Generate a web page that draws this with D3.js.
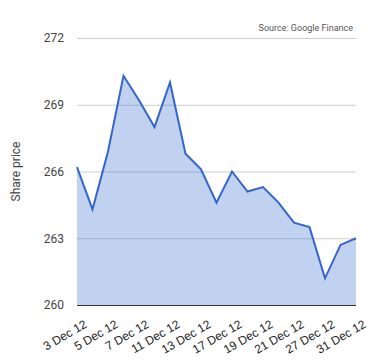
<!DOCTYPE html>
<html>
<head>
<meta charset="utf-8">
<script src="https://cdn.jsdelivr.net/npm/d3@7"></script>
<style>
  body { margin: 0; background: #fff; }
  svg text { font-family: Roboto, Arial, sans-serif; }
</style>
</head>
<body>
<svg id="chart" width="380" height="360"></svg>
<script>

// trading days, Dec 2012
const dates = ["3 Dec 12", "4 Dec 12", "5 Dec 12", "6 Dec 12", "7 Dec 12",
  "10 Dec 12", "11 Dec 12", "12 Dec 12", "13 Dec 12", "14 Dec 12",
  "17 Dec 12", "18 Dec 12", "19 Dec 12", "20 Dec 12", "21 Dec 12",
  "26 Dec 12", "27 Dec 12", "28 Dec 12", "31 Dec 12"];

const prices = [266.2, 264.3, 266.9, 270.3, 269.2, 268.0, 270.0, 266.8, 266.1, 264.6,
  266.0, 265.1, 265.3, 264.6, 263.7, 263.5, 261.2, 262.7, 263.0];

const yTicks = [260, 263, 266, 269, 272];

const svg = d3.select("svg"),
  width = +svg.attr("width"),
  height = +svg.attr("height");

const margin = { top: 38, right: 24, bottom: 55, left: 77 };

const x = d3.scalePoint()
  .domain(dates)
  .range([margin.left, width - margin.right]);

const y = d3.scaleLinear()
  .domain([260, 272])
  .range([height - margin.bottom, margin.top]);

// gridlines
svg.append("g")
  .selectAll("line")
  .data(yTicks)
  .enter()
  .append("line")
  .attr("x1", margin.left)
  .attr("x2", width - margin.right)
  .attr("y1", d => y(d) + 0.5)
  .attr("y2", d => y(d) + 0.5)
  .attr("stroke", d => d === 260 ? "#333" : "#ccc")
  .attr("stroke-width", 1);

const area = d3.area()
  .x((d, i) => x(dates[i]))
  .y0(y(260))
  .y1(d => y(d));

const line = d3.line()
  .x((d, i) => x(dates[i]))
  .y(d => y(d));

svg.append("path")
  .datum(prices)
  .attr("d", area)
  .attr("fill", "#3366cc")
  .attr("fill-opacity", 0.3);

// baseline drawn over the area
svg.append("line")
  .attr("x1", margin.left)
  .attr("x2", width - margin.right)
  .attr("y1", y(260) + 0.5)
  .attr("y2", y(260) + 0.5)
  .attr("stroke", "#333");

svg.append("path")
  .datum(prices)
  .attr("d", line)
  .attr("fill", "none")
  .attr("stroke", "#3366cc")
  .attr("stroke-width", 2)
  .attr("stroke-linejoin", "miter");

// y axis
const yAxis = svg.append("g")
  .attr("transform", `translate(${margin.left},0)`)
  .call(d3.axisLeft(y).tickValues(yTicks).tickSize(0).tickPadding(13));
yAxis.select(".domain").remove();
yAxis.selectAll("text")
  .style("font-size", "12px")
  .attr("fill", "#444");

// x axis, every other label
const xAxis = svg.append("g")
  .attr("transform", `translate(0,${y(260)})`)
  .call(d3.axisBottom(x)
    .tickValues(dates.filter((d, i) => i % 2 === 0))
    .tickSize(0));
xAxis.select(".domain").remove();
xAxis.selectAll("text")
  .style("font-size", "12px")
  .style("font-family", "Arial, 'Liberation Sans', sans-serif")
  .attr("fill", "#222")
  .attr("text-anchor", "end")
  .attr("dy", null)
  .attr("transform", "translate(6,14) rotate(-30)")
  .attr("y", 0)
  .attr("x", 0)
  .attr("dominant-baseline", "hanging");

svg.append("text")
  .attr("transform", `translate(16,${(margin.top + height - margin.bottom) / 2}) rotate(-90)`)
  .attr("text-anchor", "middle")
  .attr("dy", "0.35em")
  .style("font-size", "12px")
  .attr("fill", "#444")
  .text("Share price");

svg.append("text")
  .attr("x", width - 27)
  .attr("y", 31)
  .attr("text-anchor", "end")
  .style("font-size", "9px")
  .attr("fill", "#555")
  .text("Source: Google Finance");

</script>
</body>
</html>
